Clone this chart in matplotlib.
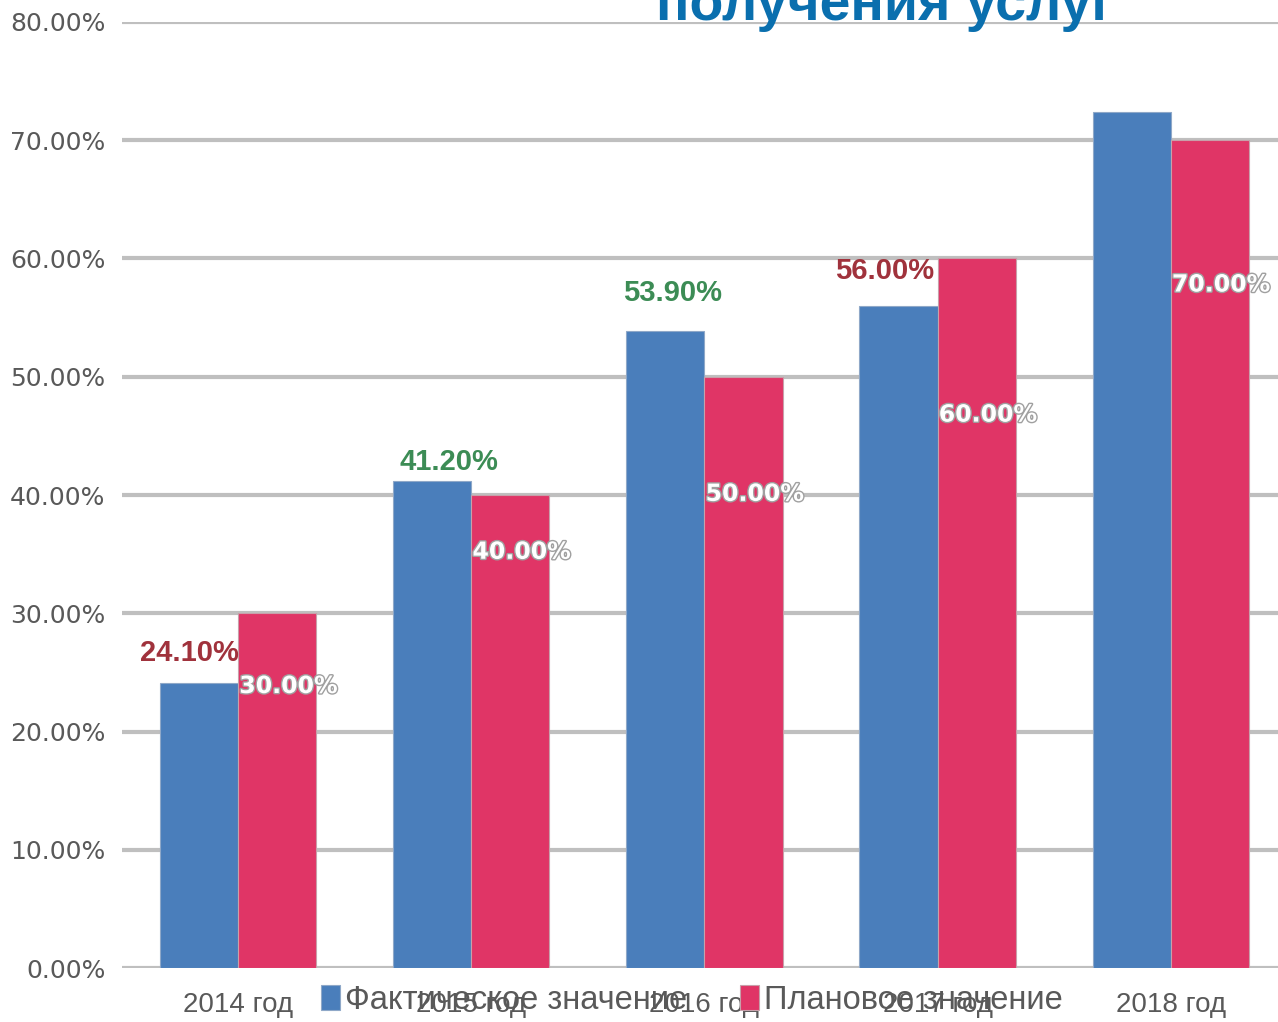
import matplotlib.pyplot as plt
import matplotlib.patheffects as pe
import numpy as np

# chart data
years = ['2014 год', '2015 год', '2016 год', '2017 год', '2018 год']
actual = [24.1, 41.2, 53.9, 56.0, 72.4]
plan = [30.0, 40.0, 50.0, 60.0, 70.0]
actual_labels = ['24.10%', '41.20%', '53.90%', '56.00%', None]
actual_label_colors = ['#A0323C', '#3C8C55', '#3C8C55', '#A0323C', None]

# hand placed label positions (as in the original slide)
actual_label_y = [26.6, 42.8, 57.1, 58.9, None]
actual_label_dx = [-0.04, 0.07, 0.03, -0.06, 0]
plan_label_y = [23.85, 35.2, 40.1, 46.8, 57.8]

blue = '#4A7EBB'
pink = '#E03566'
grid_c = '#BFBFBF'
tick_c = '#595959'

fig = plt.figure(figsize=(12.78, 10.22), dpi=100)
ax = fig.add_axes([0.0955, 0.0528, 0.9045, 0.9257])

x = np.arange(len(years))
w = 0.335
ax.bar(x - w / 2, actual, w, color=blue, edgecolor='#8FA8C8', linewidth=0.8,
       label='Фактическое значение', zorder=3)
ax.bar(x + w / 2, plan, w, color=pink, edgecolor='#C8A0AA', linewidth=0.8,
       label='Плановое значение', zorder=3)

ax.set_ylim(0, 80)
ax.set_xlim(-0.498, 4.46)
ax.set_yticks(np.arange(0, 81, 10))
ax.set_yticklabels([f'{v:.2f}%' for v in np.arange(0, 81, 10)])
ax.set_xticks(x)
ax.set_xticklabels(years)
ax.tick_params(axis='both', length=0, colors=tick_c)
ax.tick_params(axis='y', pad=12, labelsize=18)
ax.tick_params(axis='x', pad=17, labelsize=20)
for lab in ax.get_yticklabels():
    lab.set_fontfamily('DejaVu Sans')
for lab in ax.get_xticklabels():
    lab.set_fontfamily('Liberation Sans')
ax.grid(axis='y', color=grid_c, linewidth=3, zorder=0)
ax.set_axisbelow(True)
for s in ax.spines.values():
    s.set_visible(False)

# labels for actual values
for i in range(len(years)):
    if actual_labels[i] is None:
        continue
    ax.text(x[i] - w / 2 + actual_label_dx[i], actual_label_y[i], actual_labels[i],
            ha='center', va='center', fontsize=21, fontweight='bold',
            color=actual_label_colors[i], family='Liberation Sans', zorder=5)

# labels for plan values
for i in range(len(years)):
    ax.text(x[i] + 0.005, plan_label_y[i], f'{plan[i]:.2f}%',
            ha='left', va='center', fontsize=17, fontweight='bold',
            color='white', family='DejaVu Sans', zorder=5,
            path_effects=[pe.withStroke(linewidth=2, foreground='#A0A0A0')])

# legend across the category labels
fig.legend(loc='center left', bbox_to_anchor=(0.228, 0.0215), ncol=2, frameon=False,
           handlelength=0.6, handleheight=0.8, handletextpad=0.15, columnspacing=1.6,
           prop={'family': 'Liberation Sans', 'size': 23.5}, labelcolor=tick_c)

# title fragment cut by the top of the slide
fig.text(0.693, 1 - 20 / 1022, 'получения услуг', ha='center', va='baseline',
         fontsize=40, fontweight='bold', color='#0A6FAE', family='Liberation Sans')

fig.savefig('out.png', dpi=100)
